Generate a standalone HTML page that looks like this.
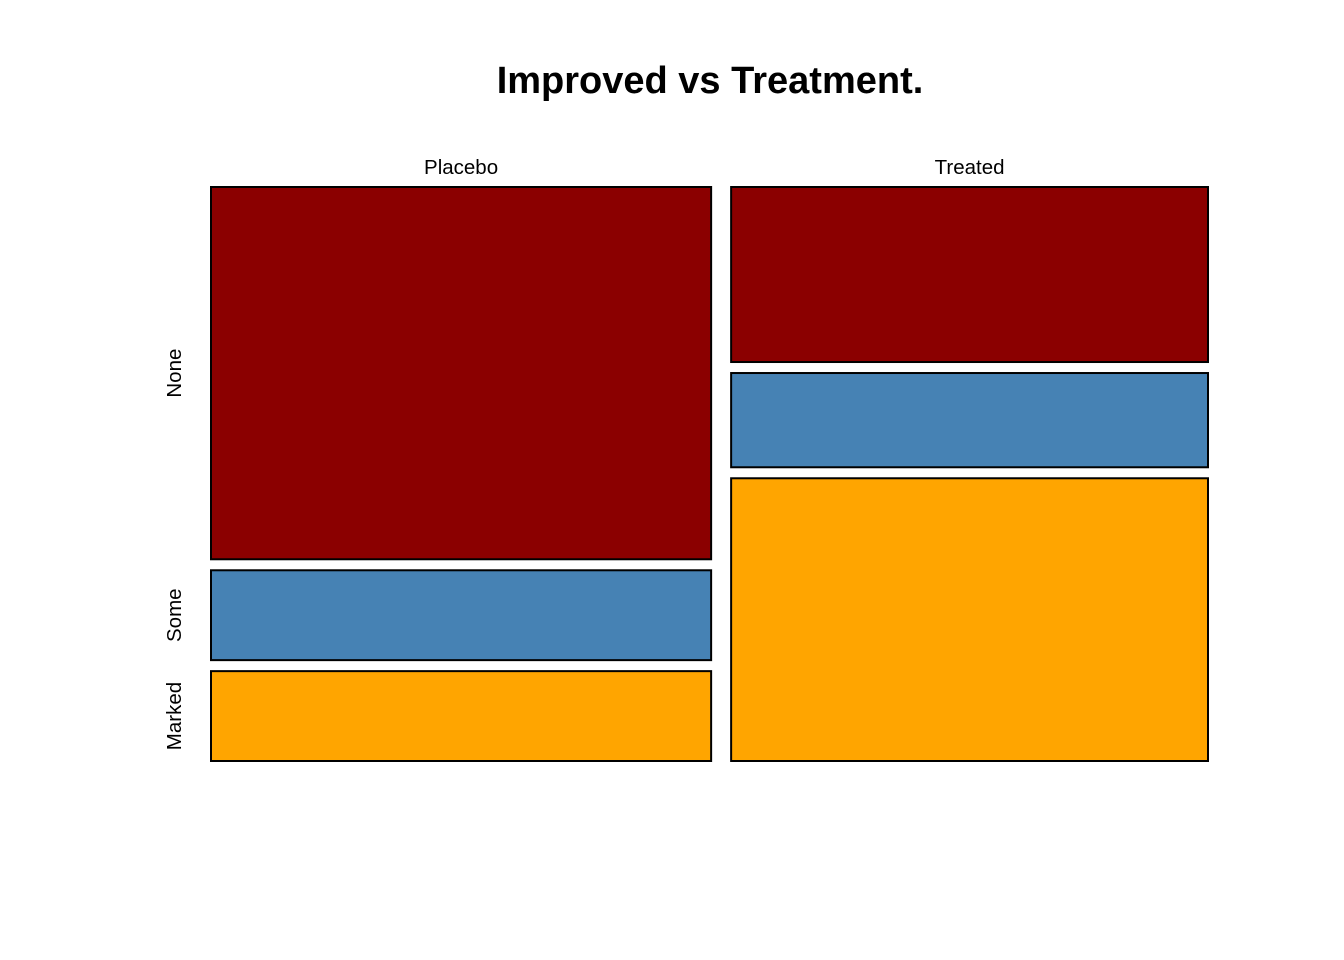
<!DOCTYPE html>
<html><head><meta charset="utf-8"><style>
html,body{margin:0;padding:0;background:#fff;}
svg{display:block;font-family:"Liberation Sans",Arial,sans-serif;}
</style></head><body>
<svg id="chart" width="1344" height="960" viewBox="0 0 1344 960">
<rect width="1344" height="960" fill="#fff"/>
<text x="710" y="93" text-anchor="middle" font-size="38" font-weight="bold">Improved vs Treatment.</text>
</svg>
<script>
const treatments = ["Placebo", "Treated"];
const improvedLevels = ["None", "Some", "Marked"];
const placeboCounts = [29, 7, 7];
const treatedCounts = [13, 7, 21];
const colors = ["#8B0000", "#4682B4", "#FFA500"];

const svg = document.getElementById('chart');
const NS = 'http://www.w3.org/2000/svg';
const X0 = 211, X1 = 1208, Y0 = 187, Y1 = 761, GAPX = 20, GAPY = 11;
const series = [placeboCounts, treatedCounts];
const totals = series.map(s => s.reduce((a, b) => a + b, 0));
const grand = totals.reduce((a, b) => a + b, 0);
const availW = (X1 - X0) - GAPX * (treatments.length - 1);
const availH = (Y1 - Y0) - GAPY * (improvedLevels.length - 1);

let x = X0;
series.forEach((counts, ci) => {
  const w = availW * totals[ci] / grand;
  const lbl = document.createElementNS(NS, 'text');
  lbl.setAttribute('x', x + w / 2); lbl.setAttribute('y', 174);
  lbl.setAttribute('text-anchor', 'middle'); lbl.setAttribute('font-size', '20.5');
  lbl.textContent = treatments[ci];
  
  
  svg.appendChild(lbl);
  let y = Y0;
  counts.forEach((c, ri) => {
    const h = availH * c / totals[ci];
    const r = document.createElementNS(NS, 'rect');
    r.setAttribute('x', x); r.setAttribute('y', y);
    r.setAttribute('width', w); r.setAttribute('height', h);
    r.setAttribute('fill', colors[ri]); r.setAttribute('stroke', '#000'); r.setAttribute('stroke-width', '2');
    
    
    svg.appendChild(r);
    if (ci === 0) {
      const t = document.createElementNS(NS, 'text');
      const cy = y + h / 2;
      t.setAttribute('transform', 'translate(181,' + cy + ') rotate(-90)');
      t.setAttribute('text-anchor', 'middle'); t.setAttribute('font-size', '20.5');
      t.textContent = improvedLevels[ri];
      
      
      svg.appendChild(t);
    }
    y += h + GAPY;
  });
  x += w + GAPX;
});
</script>
</body></html>
